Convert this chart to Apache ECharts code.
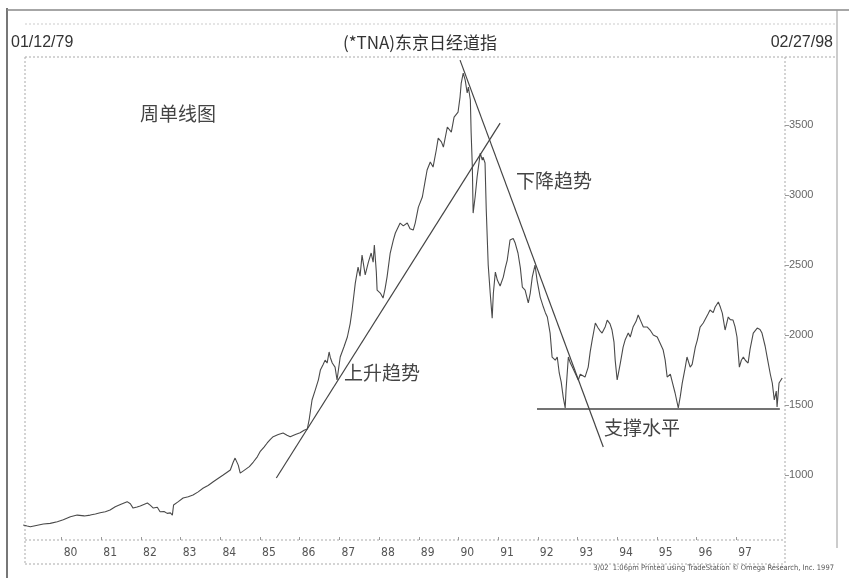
<!DOCTYPE html>
<html><head><meta charset="utf-8">
<script src="https://cdn.jsdelivr.net/npm/echarts@6/dist/echarts.min.js"></script>
<style>html,body{margin:0;padding:0;background:#fff}#c{width:849px;height:578px}</style>
</head><body><div id="c"></div>
<script>
// weekly-close readings (decimal year) and index values
const years = [
1979.03,1979.13,1979.21,1979.36,1979.54,1979.71,1979.89,1980.04,1980.22,1980.39,
1980.57,1980.72,1980.85,1980.97,1981.10,1981.22,1981.35,1981.48,1981.65,1981.73,
1981.80,1981.90,1981.98,1982.16,1982.23,1982.31,1982.41,1982.48,1982.58,1982.66,
1982.74,1982.79,1982.82,1982.94,1983.06,1983.19,1983.31,1983.44,1983.57,1983.69,
1983.82,1983.94,1984.07,1984.17,1984.25,1984.32,1984.37,1984.45,1984.50,1984.58,
1984.63,1984.73,1984.83,1984.93,1985.00,1985.10,1985.18,1985.26,1985.33,1985.46,
1985.58,1985.68,1985.76,1985.89,1986.01,1986.11,1986.19,1986.24,1986.31,1986.39,
1986.47,1986.52,1986.59,1986.64,1986.69,1986.74,1986.77,1986.82,1986.89,1986.94,
1987.02,1987.12,1987.20,1987.27,1987.32,1987.40,1987.47,1987.52,1987.57,1987.65,
1987.73,1987.80,1987.85,1987.88,1987.93,1987.95,1988.03,1988.10,1988.15,1988.20,
1988.28,1988.36,1988.41,1988.53,1988.61,1988.71,1988.78,1988.86,1988.91,1988.99,
1989.09,1989.16,1989.21,1989.29,1989.36,1989.44,1989.49,1989.57,1989.62,1989.72,
1989.82,1989.89,1989.99,1990.04,1990.07,1990.12,1990.17,1990.22,1990.25,1990.30,
1990.32,1990.35,1990.37,1990.42,1990.47,1990.55,1990.60,1990.62,1990.67,1990.70,
1990.75,1990.80,1990.85,1990.88,1990.93,1990.98,1991.05,1991.13,1991.18,1991.23,
1991.30,1991.38,1991.43,1991.50,1991.56,1991.61,1991.68,1991.76,1991.81,1991.86,
1991.93,1991.98,1992.06,1992.14,1992.19,1992.24,1992.31,1992.36,1992.44,1992.49,
1992.54,1992.59,1992.64,1992.69,1992.71,1992.77,1992.82,1992.87,1992.94,1993.02,
1993.07,1993.12,1993.19,1993.27,1993.32,1993.37,1993.45,1993.52,1993.57,1993.62,
1993.70,1993.75,1993.82,1993.87,1993.92,1993.95,1994.00,1994.08,1994.15,1994.20,
1994.28,1994.33,1994.40,1994.48,1994.53,1994.58,1994.66,1994.76,1994.83,1994.91,
1995.01,1995.08,1995.16,1995.21,1995.26,1995.34,1995.39,1995.46,1995.54,1995.59,
1995.64,1995.71,1995.76,1995.84,1995.89,1995.97,1996.02,1996.09,1996.17,1996.22,
1996.29,1996.34,1996.42,1996.47,1996.55,1996.60,1996.65,1996.72,1996.80,1996.85,
1996.92,1996.97,1997.02,1997.08,1997.13,1997.18,1997.23,1997.30,1997.35,1997.43,
1997.53,1997.60,1997.65,1997.73,1997.78,1997.86,1997.91,1997.96,1998.01,1998.03,
1998.08,1998.13,1998.16];
const closes = [
643,636,631,640,650,655,667,680,702,714,
708,714,722,731,738,750,774,790,810,795,
764,772,779,800,785,764,770,738,740,726,
730,714,786,810,836,845,857,880,907,925,
952,975,1000,1020,1036,1090,1121,1071,1014,1030,
1036,1060,1093,1130,1167,1200,1229,1255,1274,1290,
1300,1285,1274,1290,1302,1320,1329,1400,1536,1607,
1680,1750,1790,1821,1800,1879,1840,1800,1771,1679,
1843,1920,1986,2080,2179,2371,2486,2420,2571,2429,
2521,2586,2521,2643,2450,2321,2300,2264,2330,2414,
2586,2680,2729,2800,2780,2800,2760,2750,2800,2914,
2986,3100,3179,3236,3200,3320,3407,3380,3343,3486,
3450,3557,3593,3700,3800,3871,3821,3729,3771,3679,
3443,3200,2871,2986,3129,3300,3250,3271,3229,2900,
2500,2300,2121,2300,2450,2393,2350,2414,2480,2536,
2679,2690,2657,2586,2480,2343,2321,2229,2300,2414,
2500,2393,2271,2200,2160,2129,2014,1843,1821,1843,
1729,1664,1557,1479,1600,1843,1800,1771,1729,1679,
1720,1729,1700,1771,1880,1964,2086,2050,2030,2014,
2060,2107,2080,2036,1950,1821,1679,1800,1914,1964,
2014,1986,2057,2100,2143,2110,2057,2057,2036,2000,
1986,1943,1893,1821,1700,1720,1664,1586,1479,1560,
1657,1760,1843,1771,1790,1914,1964,2057,2086,2093,
2150,2179,2160,2200,2236,2200,2157,2036,2129,2110,
2107,2060,1986,1771,1820,1843,1820,1800,1900,2014,
2050,2040,2014,1920,1843,1720,1657,1536,1600,1486,
1657,1650,1693];
// hand-drawn analysis lines (endpoints in data units)
const upTrend = [[1985.41, 979], [1991.05, 3514]];
const downTrend = [[1990.04, 3964], [1993.65, 1200]];
const supportLine = [[1991.98, 1471], [1998.10, 1471]];
// tick labels
const xTickYears = [1980,1981,1982,1983,1984,1985,1986,1987,1988,1989,1990,1991,1992,1993,1994,1995,1996,1997];
const yTickValues = [1000,1500,2000,2500,3000,3500];

const chart = echarts.init(document.getElementById('c'), null, {renderer:'canvas'});
const latin = "'Liberation Sans', Arial, sans-serif";
const narrow = "'Liberation Sans Narrow','DejaVu Sans Condensed','Liberation Sans', sans-serif";
const cjk = "'Noto Sans CJK SC', sans-serif";
const dash = {stroke:'#aaa', lineWidth:1, lineDash:[2,2]};
const option = {
  animation:false,
  backgroundColor:'#fff',
  grid:{left:22, right:64, top:58, bottom:38},
  xAxis:{type:'value', min:1979, max:1998.23,
    axisLine:{show:false}, splitLine:{show:false},
    axisTick:{show:true, inside:true, length:3, customValues:xTickYears, lineStyle:{color:'#999'}},
    axisLabel:{customValues:xTickYears, formatter:v=>String(v).slice(2), align:'left', margin:7,
      color:'#555', fontSize:12, fontFamily:narrow, padding:[0,0,0,2]}},
  yAxis:{type:'value', position:'right', min:536, max:3979,
    axisLine:{show:false}, splitLine:{show:false},
    axisTick:{show:true, length:4, customValues:yTickValues, lineStyle:{color:'#999'}},
    axisLabel:{customValues:yTickValues, formatter:v=>String(v), margin:4, color:'#666', fontSize:11, fontFamily:latin}},
  series:[
    {type:'line', data:years.map((t,i)=>[t, closes[i]]), showSymbol:false, silent:true,
      lineStyle:{color:'#4a4a4a', width:1.1}},
    {type:'line', data:upTrend, showSymbol:false, silent:true, lineStyle:{color:'#444', width:1.2}},
    {type:'line', data:downTrend, showSymbol:false, silent:true, lineStyle:{color:'#444', width:1.2}},
    {type:'line', data:supportLine, showSymbol:false, silent:true, lineStyle:{color:'#444', width:1.5}}
  ],
  graphic:[
    {type:'line', shape:{x1:7,y1:8,x2:7,y2:578}, style:{stroke:'#777', lineWidth:2}},
    {type:'line', shape:{x1:7,y1:10,x2:849,y2:10}, style:{stroke:'#888', lineWidth:1.5}},
    {type:'line', shape:{x1:837,y1:10,x2:837,y2:548}, style:{stroke:'#999', lineWidth:1}},
    {type:'line', shape:{x1:25,y1:24,x2:837,y2:24}, style:{stroke:'#ccc', lineWidth:1, lineDash:[2,2]}},
    {type:'line', shape:{x1:25,y1:57,x2:837,y2:57}, style:dash},
    {type:'line', shape:{x1:25,y1:57,x2:25,y2:565}, style:dash},
    {type:'line', shape:{x1:785,y1:57,x2:785,y2:565}, style:dash},
    {type:'line', shape:{x1:25,y1:540,x2:785,y2:540}, style:dash},
    {type:'line', shape:{x1:25,y1:564,x2:785,y2:564}, style:dash},
    {type:'text', style:{text:'01/12/79', x:11, y:43, font:'16px '+latin, fill:'#333', textVerticalAlign:'middle'}},
    {type:'text', style:{text:'02/27/98', x:833, y:43, font:'16px '+latin, fill:'#333', textAlign:'right', textVerticalAlign:'middle'}},
    {type:'text', style:{text:'(*TNA)东京日经道指', x:420, y:43, font:'17px '+cjk, fill:'#333', textAlign:'center', textVerticalAlign:'middle'}},
    {type:'text', style:{text:'周单线图', x:140, y:114, font:'19px '+cjk, fill:'#444', textVerticalAlign:'middle'}},
    {type:'text', style:{text:'上升趋势', x:344, y:373, font:'19px '+cjk, fill:'#444', textVerticalAlign:'middle'}},
    {type:'text', style:{text:'下降趋势', x:516, y:181, font:'19px '+cjk, fill:'#444', textVerticalAlign:'middle'}},
    {type:'text', style:{text:'支撑水平', x:604, y:428, font:'19px '+cjk, fill:'#444', textVerticalAlign:'middle'}},
    {type:'text', style:{text:'3/02  1:06pm Printed using TradeStation © Omega Research, Inc. 1997', x:834, y:568, font:'7.5px '+narrow, fill:'#555', textAlign:'right', textVerticalAlign:'middle'}}
  ]
};
chart.setOption(option);
</script>
</body></html>
